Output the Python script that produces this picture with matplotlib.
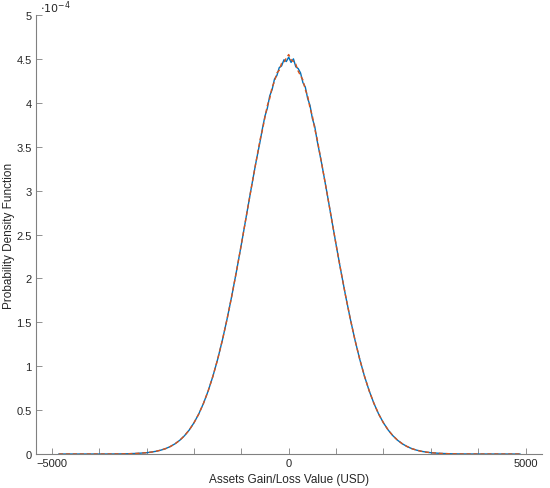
import numpy as np
import matplotlib.pyplot as plt
from matplotlib.ticker import MultipleLocator, FuncFormatter

# values (pdf in units of 1e-4)
x_usd = [-4850, -4000, -3800, -3600, -3400, -3200, -3000, -2900, -2800, -2700, -2600,
         -2500, -2400, -2300, -2200, -2100, -2000, -1900, -1800, -1700, -1600,
         -1500, -1400, -1300, -1200, -1100, -1000, -900, -800, -700,
         -600, -550, -500, -450, -400, -350, -300, -250, -200, -150, -100, -50,
         0, 50, 100, 150, 200, 250, 300, 350, 400, 450, 500, 550, 600,
         700, 800, 900, 1000, 1100, 1200, 1300, 1400, 1500, 1600, 1700, 1800,
         1900, 2000, 2100, 2200, 2300, 2400, 2500, 2600, 2700, 2800, 2900,
         3000, 3200, 3400, 3600, 3800, 4000, 4880]

tail_left = [0.0, 0.0002, 0.0005, 0.0012, 0.003, 0.007, 0.015, 0.022, 0.031, 0.044, 0.061,
             0.085, 0.116, 0.156, 0.208, 0.273, 0.355, 0.454, 0.575, 0.718, 0.885,
             1.078, 1.296, 1.539, 1.804, 2.088, 2.385, 2.692, 2.999, 3.297]
tail_right = tail_left[::-1]

peak_blue = [3.57, 3.72, 3.85, 3.94, 4.08, 4.15, 4.27, 4.31, 4.40, 4.42, 4.49, 4.47,
             4.52, 4.46, 4.50, 4.41, 4.39, 4.34, 4.23, 4.18, 4.05, 3.97, 3.82, 3.73, 3.57]
peak_orange = [3.59, 3.70, 3.84, 3.97, 4.05, 4.18, 4.24, 4.34, 4.37, 4.45, 4.46, 4.51,
               4.55, 4.49, 4.47, 4.44, 4.36, 4.31, 4.26, 4.15, 4.08, 3.94, 3.85, 3.70, 3.59]

pdf_blue = tail_left + peak_blue + tail_right
pdf_orange = tail_left + peak_orange + tail_right

x_ticks = [-5000, -4000, -3000, -2000, -1000, 0, 1000, 2000, 3000, 4000, 5000]
x_labels = ['\u22125000', '', '', '', '', '0', '', '', '', '', '5000']

plt.rcParams['font.family'] = ['Liberation Sans', 'DejaVu Sans']

fig = plt.figure(figsize=(5.5, 4.89), dpi=100)
ax = fig.add_axes([0.0649, 0.0695, 0.92, 0.8978])

ax.plot(x_usd, pdf_blue, color='#0072BD', linewidth=1.0)
ax.plot(x_usd, pdf_orange, color='#D95319', linewidth=1.0, linestyle=(0, (3, 2)))

ax.set_xlim(-5340, 5340)
ax.set_ylim(0, 5)
ax.set_xticks(x_ticks)
ax.set_xticklabels(x_labels)
ax.yaxis.set_major_locator(MultipleLocator(0.5))
ax.yaxis.set_major_formatter(FuncFormatter(lambda v, p: f'{v:g}'))

for s in ['top', 'right']:
    ax.spines[s].set_visible(False)
for s in ['left', 'bottom']:
    ax.spines[s].set_color('#808080')
    ax.spines[s].set_linewidth(0.8)
ax.tick_params(direction='in', length=4, width=0.6, color='#808080',
               labelsize=8, labelcolor='#262626', pad=3)

ax.set_xlabel('Assets Gain/Loss Value (USD)', fontsize=8.5, color='#262626', va='center')
ax.set_ylabel('Probability Density Function', fontsize=8.5, color='#262626', va='center')
ax.xaxis.set_label_coords(0.5, -0.057)
ax.yaxis.set_label_coords(-0.052, 0.5)
ax.text(0.008, 1.0, '$\\cdot10^{-4}$', transform=ax.transAxes, fontsize=8,
        color='#262626', ha='left', va='bottom')

fig.savefig('out.png', dpi=100)
